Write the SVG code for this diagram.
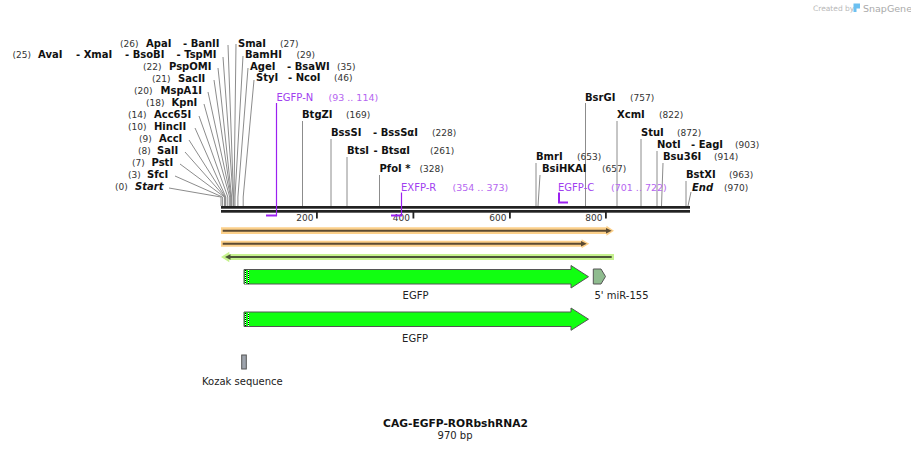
<svg xmlns="http://www.w3.org/2000/svg" width="911" height="451" viewBox="0 0 911 451">
<style>
.e{font-family:"DejaVu Sans",Verdana,sans-serif;font-size:10px;font-weight:bold;fill:#111}
.ei{font-family:"DejaVu Sans",Verdana,sans-serif;font-size:10px;font-weight:bold;font-style:italic;fill:#111}
.n{font-family:"DejaVu Sans",Verdana,sans-serif;font-size:9px;fill:#333}
.p{font-family:"DejaVu Sans",Verdana,sans-serif;font-size:10px;fill:#a040f0}
.pn{font-family:"DejaVu Sans",Verdana,sans-serif;font-size:9.5px;fill:#b566f0}
.t{font-family:"DejaVu Sans",Verdana,sans-serif;font-size:10px;fill:#222}
.tk{font-family:"DejaVu Sans",Verdana,sans-serif;font-size:9px;fill:#333;text-anchor:end}
.s{fill:none;stroke:#8c8c8c;stroke-width:1}
.pl{fill:none;stroke:#9b20f0;stroke-width:1.2}
.pb{fill:none;stroke:#9b20f0;stroke-width:2}
.feat{fill:#11ff11;stroke:#555;stroke-width:1}
.wl{stroke:#fff;stroke-width:1}
.dots{stroke:#000;stroke-width:1;stroke-dasharray:1 1}
</style>

<g id="logo">
<text x="813" y="11" style="font-family:'DejaVu Sans',sans-serif;font-size:7.5px;fill:#b8b8b8">Created by</text>
<path d="M853.5,3.5 H860 V8.5 H856.5 V12 H853.5 Z" fill="#6cc0f0"/>
<text x="863" y="11.5" style="font-family:'DejaVu Sans',sans-serif;font-size:9.5px;fill:#aaaaaa">SnapGene</text>
</g>

<g id="backbone">
<rect x="221" y="206" width="469" height="2.7" fill="#222"/>
<rect x="221" y="210" width="469" height="2.7" fill="#222"/>
<rect x="316" y="212" width="1.8" height="6.5" fill="#222"/>
<rect x="412.5" y="212" width="1.8" height="6.5" fill="#222"/>
<rect x="509" y="212" width="1.8" height="6.5" fill="#222"/>
<rect x="605" y="212" width="1.8" height="6.5" fill="#222"/>
<text class="tk" x="313.5" y="220.5">200</text>
<text class="tk" x="410" y="220.5">400</text>
<text class="tk" x="506.5" y="220.5">600</text>
<text class="tk" x="602.5" y="220.5">800</text>
</g>

<g id="connectors">
<polyline class="s" points="169,188 221,197 221,206"/>
<polyline class="s" points="175,176 222.4,197 222.4,206"/>
<polyline class="s" points="180,164 224.4,197 224.4,206"/>
<polyline class="s" points="185,152 224.9,197 224.9,206"/>
<polyline class="s" points="189,140 225.3,197 225.3,206"/>
<polyline class="s" points="195,128 225.8,197 225.8,206"/>
<polyline class="s" points="199,116 227.8,197 227.8,206"/>
<polyline class="s" points="204,104 229.7,197 229.7,206"/>
<polyline class="s" points="208,92 230.7,197 230.7,206"/>
<polyline class="s" points="214,80 231.1,197 231.1,206"/>
<polyline class="s" points="218,68 231.6,197 231.6,206"/>
<polyline class="s" points="223,57 233.1,197 233.1,206"/>
<polyline class="s" points="228,45 233.5,197 233.5,206"/>
<polyline class="s" points="236,44 234,197 234,206"/>
<polyline class="s" points="243,56 235,197 235,206"/>
<polyline class="s" points="248,68 237.9,197 237.9,206"/>
<polyline class="s" points="254,80 243.2,197 243.2,206"/>
<line class="s" x1="302.5" y1="121" x2="302.5" y2="206"/>
<line class="s" x1="331" y1="139" x2="331" y2="206"/>
<line class="s" x1="347" y1="157" x2="347" y2="206"/>
<line class="s" x1="379.5" y1="175" x2="379.5" y2="206"/>
<line class="s" x1="536" y1="163" x2="536" y2="206"/>
<line class="s" x1="540" y1="175" x2="538" y2="206"/>
<line class="s" x1="585.5" y1="103" x2="585.5" y2="206"/>
<line class="s" x1="617" y1="121" x2="617" y2="206"/>
<line class="s" x1="641" y1="139" x2="641" y2="206"/>
<line class="s" x1="657" y1="151" x2="657" y2="206"/>
<line class="s" x1="663" y1="163" x2="661.5" y2="206"/>
<line class="s" x1="686" y1="181" x2="686" y2="206"/>
<line class="s" x1="691" y1="192" x2="688" y2="206"/>
</g>

<g id="site-start"><text class="n" x="115" y="190">(0)</text><text class="ei" x="135" y="190">Start</text></g>
<g id="site-SfcI"><text class="n" x="128" y="178">(3)</text><text class="e" x="147" y="178">SfcI</text></g>
<g id="site-PstI"><text class="n" x="132" y="166">(7)</text><text class="e" x="151.5" y="166">PstI</text></g>
<g id="site-SalI"><text class="n" x="138" y="154">(8)</text><text class="e" x="157" y="154">SalI</text></g>
<g id="site-AccI"><text class="n" x="139" y="142">(9)</text><text class="e" x="159" y="142">AccI</text></g>
<g id="site-HincII"><text class="n" x="128" y="130">(10)</text><text class="e" x="154" y="130">HincII</text></g>
<g id="site-Acc65I"><text class="n" x="128" y="118">(14)</text><text class="e" x="154" y="118">Acc65I</text></g>
<g id="site-KpnI"><text class="n" x="146" y="106">(18)</text><text class="e" x="171.5" y="106">KpnI</text></g>
<g id="site-MspA1I"><text class="n" x="134" y="94">(20)</text><text class="e" x="160.5" y="94">MspA1I</text></g>
<g id="site-SacII"><text class="n" x="152" y="82">(21)</text><text class="e" x="178" y="82">SacII</text></g>
<g id="site-PspOMI"><text class="n" x="143" y="70">(22)</text><text class="e" x="169" y="70">PspOMI</text></g>
<g id="site-AvaI"><text class="n" x="12.5" y="58">(25)</text><text class="e" x="38" y="58">AvaI</text><text class="e" x="76" y="58">- XmaI</text><text class="e" x="125" y="58">- BsoBI</text><text class="e" x="176.5" y="58">- TspMI</text></g>
<g id="site-ApaI"><text class="n" x="120" y="46.5">(26)</text><text class="e" x="146" y="46.5">ApaI</text><text class="e" x="183" y="46.5">- BanII</text></g>
<g id="site-SmaI"><text class="e" x="238" y="46.5">SmaI</text><text class="n" x="280" y="46.5">(27)</text></g>
<g id="site-BamHI"><text class="e" x="245" y="58">BamHI</text><text class="n" x="296.5" y="58">(29)</text></g>
<g id="site-AgeI"><text class="e" x="250" y="69.5">AgeI</text><text class="e" x="287" y="69.5">- BsaWI</text><text class="n" x="337" y="69.5">(35)</text></g>
<g id="site-StyI"><text class="e" x="256" y="81">StyI</text><text class="e" x="288" y="81">- NcoI</text><text class="n" x="334" y="81">(46)</text></g>
<g id="site-BtgZI"><text class="e" x="302" y="118">BtgZI</text><text class="n" x="346" y="118">(169)</text></g>
<g id="site-BssSI"><text class="e" x="331" y="136">BssSI</text><text class="e" x="373" y="136">- BssSαI</text><text class="n" x="432" y="136">(228)</text></g>
<g id="site-BtsI"><text class="e" x="347" y="154">BtsI</text><text class="e" x="373.5" y="154">- BtsαI</text><text class="n" x="430" y="154">(261)</text></g>
<g id="site-PfoI"><text class="e" x="379.5" y="172">PfoI *</text><text class="n" x="419.5" y="172">(328)</text></g>
<g id="site-BmrI"><text class="e" x="536" y="160">BmrI</text><text class="n" x="577" y="160">(653)</text></g>
<g id="site-BsiHKAI"><text class="e" x="542" y="172">BsiHKAI</text><text class="n" x="602" y="172">(657)</text></g>
<g id="site-BsrGI"><text class="e" x="585" y="100.5">BsrGI</text><text class="n" x="630" y="100.5">(757)</text></g>
<g id="site-XcmI"><text class="e" x="617" y="118">XcmI</text><text class="n" x="659" y="118">(822)</text></g>
<g id="site-StuI"><text class="e" x="641" y="136">StuI</text><text class="n" x="677" y="136">(872)</text></g>
<g id="site-NotI"><text class="e" x="657" y="148">NotI</text><text class="e" x="691" y="148">- EagI</text><text class="n" x="735" y="148">(903)</text></g>
<g id="site-Bsu36I"><text class="e" x="663" y="160">Bsu36I</text><text class="n" x="714" y="160">(914)</text></g>
<g id="site-BstXI"><text class="e" x="686" y="178">BstXI</text><text class="n" x="729" y="178">(963)</text></g>
<g id="site-end"><text class="ei" x="692" y="190.5">End</text><text class="n" x="724" y="190.5">(970)</text></g>

<g id="primer-EGFP-N">
<text class="p" x="276.5" y="101">EGFP-N</text><text class="pn" x="328.5" y="101">(93 .. 114)</text>
<line class="pl" x1="276.5" y1="103" x2="276.5" y2="216"/>
<line class="pb" x1="266" y1="215.5" x2="277" y2="215.5"/>
</g>
<g id="primer-EXFP-R">
<text class="p" x="401" y="190.5">EXFP-R</text><text class="pn" x="452.5" y="190.5">(354 .. 373)</text>
<line class="pl" x1="401.5" y1="192.5" x2="401.5" y2="216"/>
<line class="pb" x1="391" y1="215.5" x2="402" y2="215.5"/>
</g>
<g id="primer-EGFP-C">
<text class="p" x="558" y="190.5">EGFP-C</text><text class="pn" x="611" y="190.5">(701 .. 722)</text>
<polyline class="pb" points="559,192.5 559,202.5 568,202.5"/>
</g>

<g id="orf1">
<path d="M221,227.3 H606.5 V225.7 L614,230.7 L606.5,235.7 V234 H221 Z" fill="#fcd08a"/>
<line x1="222.7" y1="230.7" x2="607" y2="230.7" stroke="#5b4a32" stroke-width="2"/>
<path d="M606,228 L611.7,230.7 L606,233.4 Z" fill="#5b4a32"/>
</g>
<g id="orf2">
<path d="M221,240.7 H581.7 V239.2 L589.3,243.7 L581.7,248.2 V246.7 H221 Z" fill="#fcd08a"/>
<line x1="222.7" y1="243.7" x2="582" y2="243.7" stroke="#5b4a32" stroke-width="2"/>
<path d="M581,241 L586.7,243.7 L581,246.4 Z" fill="#5b4a32"/>
</g>
<g id="orf3">
<path d="M614,254 H229.3 V251.7 L221,257 L229.3,262.3 V260 H614 Z" fill="#c6f28f"/>
<line x1="229" y1="257" x2="611.7" y2="257" stroke="#4b5537" stroke-width="2"/>
<path d="M230.5,254.3 L225,257 L230.5,259.7 Z" fill="#4b5537"/>
</g>

<g id="feature-EGFP-1">
<path class="feat" d="M244,269.5 H571 V265.5 L588.5,276.7 L571,288 V284 H244 Z"/>
<line class="wl" x1="245.5" y1="270" x2="245.5" y2="284"/>
<line class="wl" x1="248.5" y1="270" x2="248.5" y2="284"/>
<line class="dots" x1="245.5" y1="270" x2="245.5" y2="284"/>
<line class="dots" x1="248.5" y1="271" x2="248.5" y2="284"/>
<text class="t" x="415.5" y="299" text-anchor="middle">EGFP</text>
</g>
<g id="feature-miR-155">
<path d="M593.3,269 H601 L605.5,276.5 L601,284 H593.3 Z" fill="#8fbc8f" stroke="#555" stroke-width="1"/>
<text class="t" x="594.5" y="299">5' miR-155</text>
</g>
<g id="feature-EGFP-2">
<path class="feat" d="M244,312 H571 V308 L588.5,319.2 L571,330.3 V326.5 H244 Z"/>
<line class="wl" x1="245.5" y1="313" x2="245.5" y2="326"/>
<line class="wl" x1="248.5" y1="313" x2="248.5" y2="326"/>
<line class="dots" x1="245.5" y1="313" x2="245.5" y2="326"/>
<line class="dots" x1="248.5" y1="314" x2="248.5" y2="326"/>
<text class="t" x="415" y="342" text-anchor="middle">EGFP</text>
</g>
<g id="feature-Kozak">
<rect x="241.7" y="355" width="4.6" height="14" fill="#9ea4ad" stroke="#555" stroke-width="1"/>
<text class="t" x="202" y="384.5">Kozak sequence</text>
</g>

<g id="title">
<text x="455.5" y="427" text-anchor="middle" style="font-family:'DejaVu Sans',Verdana,sans-serif;font-size:10.7px;font-weight:bold;fill:#111">CAG-EGFP-RORbshRNA2</text>
<text x="455" y="438.5" text-anchor="middle" class="t">970 bp</text>
</g>
</svg>
